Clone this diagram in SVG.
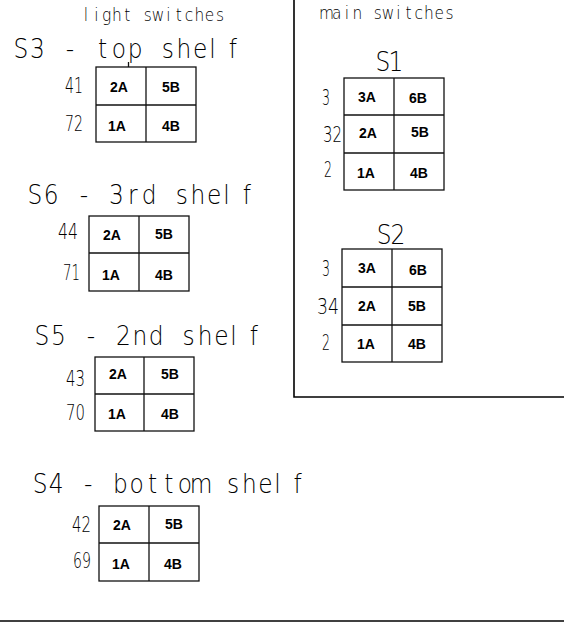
<svg xmlns="http://www.w3.org/2000/svg" width="564" height="622" viewBox="0 0 564 622">
<style>
.t{font-family:"DejaVu Sans","Liberation Sans",sans-serif;font-weight:200;fill:#000}
.m{text-anchor:middle}
.h{font-size:17.5px}
.ti{font-size:26.5px}
.n{font-size:21px}
.c{font-family:"Liberation Sans",Arial,sans-serif;font-weight:bold;font-size:14px;text-anchor:middle;fill:#000}
.g{fill:none;stroke:#111;stroke-width:1.3}
.b{fill:none;stroke:#000;stroke-width:1.6}
</style>
<rect width="564" height="622" fill="#fff"/>
<g id="frame">
<polyline class="b" points="294,0 294,397 564,397"/>
<line class="b" x1="0" y1="621" x2="564" y2="621"/>
</g>
<g id="light-heading" transform="scale(0.88 1)"><text class="t h m" x="97.7 109.4 121.1 132.8 144.5 156.3 168 179.7 191.4 203.1 214.8 226.5 238.2 249.9" y="21">light switches</text></g>
<g id="main-heading" transform="scale(0.88 1)"><text class="t h m" x="371 382.7 394.3 406 417.6 429.3 440.9 452.6 464.2 475.9 487.5 499.1 510.8" y="19">main switches</text></g>

<g id="S3">
<g transform="scale(0.88 1)"><text class="t ti m" x="23.9 42.4 60.9 79.4 98 116.5 135 153.5 172 190.6 209.1 227.6 241.5 264.7" y="58">S3 - top shelf</text></g>
<line class="g" x1="128.5" y1="62" x2="128.5" y2="67"/>
<rect class="g" x="96" y="67" width="100" height="75"/>
<line class="g" x1="146" y1="67" x2="146" y2="142"/>
<line class="g" x1="96" y1="105" x2="196" y2="105"/>
<text class="t n" x="65" y="93" textLength="18" lengthAdjust="spacingAndGlyphs">41</text>
<text class="t n" x="65" y="131" textLength="18" lengthAdjust="spacingAndGlyphs">72</text>
<text class="c" x="119" y="92">2A</text><text class="c" x="171" y="92">5B</text>
<text class="c" x="117" y="131">1A</text><text class="c" x="171" y="131">4B</text>
</g>

<g id="S6">
<g transform="scale(0.88 1)"><text class="t ti m" x="39.8 58.3 76.8 95.3 113.9 132.4 150.9 169.4 188 206.5 225 243.5 257.4 280.6" y="204">S6 - 3rd shelf</text></g>
<rect class="g" x="89" y="216" width="100" height="75"/>
<line class="g" x1="139" y1="216" x2="139" y2="291"/>
<line class="g" x1="89" y1="253" x2="189" y2="253"/>
<text class="t n" x="58" y="239" textLength="20" lengthAdjust="spacingAndGlyphs">44</text>
<text class="t n" x="63" y="280" textLength="17" lengthAdjust="spacingAndGlyphs">71</text>
<text class="c" x="112" y="240">2A</text><text class="c" x="164" y="239">5B</text>
<text class="c" x="111" y="280">1A</text><text class="c" x="164" y="280">4B</text>
</g>

<g id="S5">
<g transform="scale(0.88 1)"><text class="t ti m" x="47.7 66.3 84.8 103.3 121.8 140.3 158.9 177.4 195.9 214.4 233 251.5 265.3 288.5" y="345">S5 - 2nd shelf</text></g>
<rect class="g" x="95" y="357" width="99" height="74"/>
<line class="g" x1="144" y1="357" x2="144" y2="431"/>
<line class="g" x1="95" y1="394" x2="194" y2="394"/>
<text class="t n" x="66" y="386" textLength="19" lengthAdjust="spacingAndGlyphs">43</text>
<text class="t n" x="66" y="420" textLength="19" lengthAdjust="spacingAndGlyphs">70</text>
<text class="c" x="118" y="379">2A</text><text class="c" x="170" y="379">5B</text>
<text class="c" x="117" y="419">1A</text><text class="c" x="170" y="419">4B</text>
</g>

<g id="S4">
<g transform="scale(0.88 1)"><text class="t ti m" x="45.5 63.8 82 100.3 118.6 136.9 155.2 173.5 191.8 210.1 228.4 246.7 265 283.3 301.6 315.3 338.2" y="493">S4 - bottom shelf</text></g>
<rect class="g" x="99" y="506" width="100" height="75"/>
<line class="g" x1="149" y1="506" x2="149" y2="581"/>
<line class="g" x1="99" y1="543" x2="199" y2="543"/>
<text class="t n" x="72" y="532" textLength="19" lengthAdjust="spacingAndGlyphs">42</text>
<text class="t n" x="73" y="568" textLength="18" lengthAdjust="spacingAndGlyphs">69</text>
<text class="c" x="122" y="530">2A</text><text class="c" x="174" y="529">5B</text>
<text class="c" x="121" y="569">1A</text><text class="c" x="173" y="569">4B</text>
</g>

<g id="S1">
<g transform="scale(0.88 1)"><text class="t ti m" x="435.2 450" y="71">S1</text></g>
<rect class="g" x="344" y="78" width="100" height="112"/>
<line class="g" x1="394" y1="78" x2="394" y2="190"/>
<line class="g" x1="344" y1="115" x2="444" y2="115"/>
<line class="g" x1="344" y1="153" x2="444" y2="153"/>
<text class="t n" x="322" y="105" textLength="8" lengthAdjust="spacingAndGlyphs">3</text>
<text class="t n" x="323" y="142" textLength="19" lengthAdjust="spacingAndGlyphs">32</text>
<text class="t n" x="324" y="177" textLength="8" lengthAdjust="spacingAndGlyphs">2</text>
<text class="c" x="367" y="102">3A</text><text class="c" x="418" y="103">6B</text>
<text class="c" x="368" y="138">2A</text><text class="c" x="420" y="137">5B</text>
<text class="c" x="366" y="178">1A</text><text class="c" x="419" y="178">4B</text>
</g>

<g id="S2">
<g transform="scale(0.88 1)"><text class="t ti m" x="436.4 452.3" y="244">S2</text></g>
<rect class="g" x="342" y="249" width="100" height="113"/>
<line class="g" x1="392" y1="249" x2="392" y2="362"/>
<line class="g" x1="342" y1="287" x2="442" y2="287"/>
<line class="g" x1="342" y1="325" x2="442" y2="325"/>
<text class="t n" x="322" y="276" textLength="8" lengthAdjust="spacingAndGlyphs">3</text>
<text class="t n" x="317" y="314" textLength="22" lengthAdjust="spacingAndGlyphs">34</text>
<text class="t n" x="322" y="350" textLength="8" lengthAdjust="spacingAndGlyphs">2</text>
<text class="c" x="367" y="273">3A</text><text class="c" x="418" y="275">6B</text>
<text class="c" x="367" y="311">2A</text><text class="c" x="417" y="311">5B</text>
<text class="c" x="366" y="349">1A</text><text class="c" x="417" y="349">4B</text>
</g>
</svg>
